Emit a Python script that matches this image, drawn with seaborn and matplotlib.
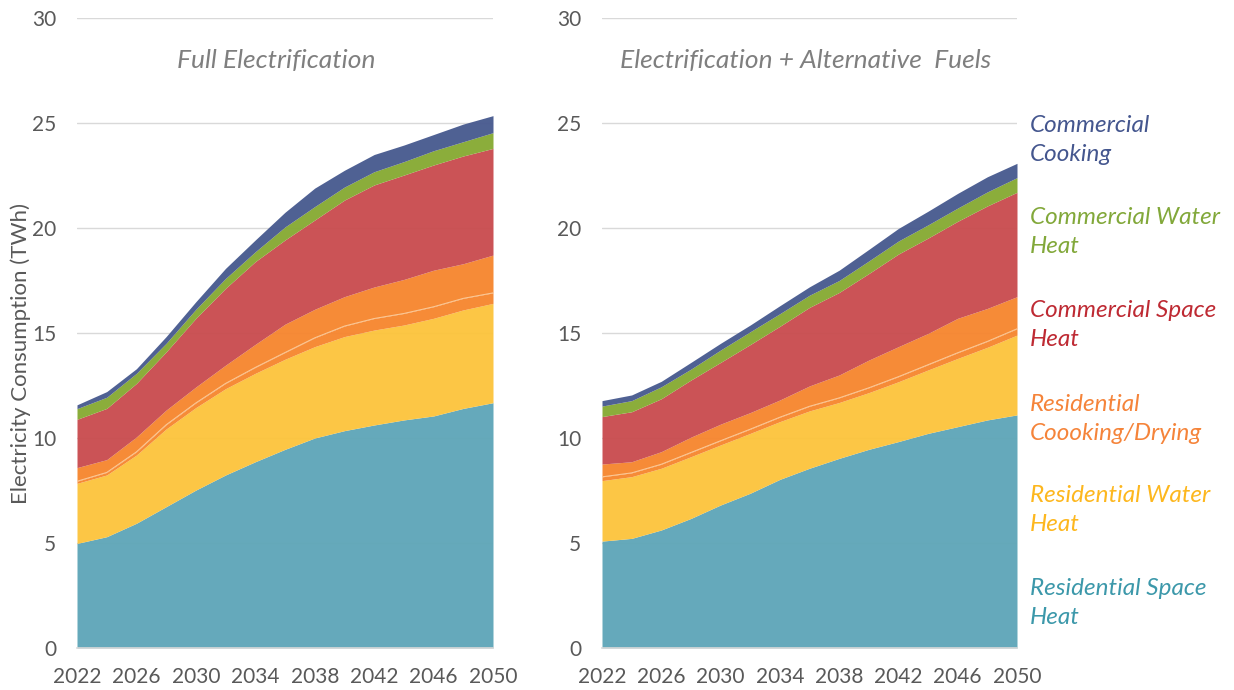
import numpy as np
import matplotlib
matplotlib.use("Agg")
import matplotlib.pyplot as plt
import seaborn as sns

# ---------------- data ----------------
years = [2022, 2024, 2026, 2028, 2030, 2032, 2034, 2036, 2038, 2040, 2042, 2044, 2046, 2048, 2050]

# Full Electrification (TWh)
fe_res_space = [4.98, 5.30, 5.94, 6.73, 7.52, 8.24, 8.87, 9.46, 10.00, 10.35, 10.62, 10.86, 11.05, 11.41, 11.68]
fe_res_water = [2.86, 2.94, 3.25, 3.70, 3.93, 4.11, 4.21, 4.29, 4.35, 4.48, 4.52, 4.52, 4.65, 4.69, 4.73]
fe_res_drying = [0.10, 0.12, 0.15, 0.20, 0.22, 0.25, 0.28, 0.32, 0.42, 0.50, 0.55, 0.55, 0.55, 0.55, 0.50]
fe_res_cooking = [0.65, 0.61, 0.71, 0.70, 0.76, 0.87, 1.10, 1.35, 1.36, 1.40, 1.50, 1.62, 1.74, 1.65, 1.80]
fe_com_space = [2.30, 2.44, 2.55, 2.77, 3.27, 3.66, 3.94, 4.01, 4.25, 4.60, 4.86, 4.97, 5.01, 5.13, 5.08]
fe_com_water = [0.51, 0.53, 0.48, 0.41, 0.43, 0.47, 0.47, 0.62, 0.64, 0.62, 0.63, 0.64, 0.68, 0.68, 0.75]
fe_com_cooking = [0.18, 0.27, 0.22, 0.32, 0.36, 0.48, 0.56, 0.70, 0.88, 0.80, 0.82, 0.79, 0.77, 0.84, 0.81]

# Electrification + Alternative Fuels (TWh)
af_res_space = [5.09, 5.22, 5.62, 6.17, 6.81, 7.37, 8.03, 8.56, 9.03, 9.46, 9.83, 10.22, 10.54, 10.86, 11.10]
af_res_water = [2.88, 2.94, 2.94, 2.94, 2.86, 2.85, 2.75, 2.73, 2.66, 2.70, 2.85, 3.02, 3.25, 3.46, 3.80]
af_res_drying = [0.18, 0.18, 0.19, 0.20, 0.20, 0.20, 0.21, 0.22, 0.22, 0.23, 0.24, 0.25, 0.27, 0.28, 0.30]
af_res_cooking = [0.61, 0.53, 0.60, 0.73, 0.79, 0.79, 0.82, 0.97, 1.09, 1.32, 1.43, 1.49, 1.64, 1.57, 1.53]
af_com_space = [2.26, 2.38, 2.52, 2.72, 2.94, 3.24, 3.51, 3.74, 3.93, 4.12, 4.41, 4.54, 4.62, 4.88, 4.97]
af_com_water = [0.50, 0.53, 0.57, 0.52, 0.59, 0.61, 0.60, 0.58, 0.57, 0.60, 0.62, 0.63, 0.63, 0.67, 0.70]
af_com_cooking = [0.26, 0.27, 0.26, 0.32, 0.32, 0.32, 0.38, 0.40, 0.49, 0.55, 0.60, 0.65, 0.70, 0.72, 0.68]

panel_titles = ["Full Electrification", "Electrification + Alternative  Fuels"]
legend_labels = ["Commercial\nCooking", "Commercial Water\nHeat", "Commercial Space\nHeat",
                 "Residential\nCoooking/Drying", "Residential Water\nHeat", "Residential Space\nHeat"]
y_label = "Electricity Consumption (TWh)"
x_tick_labels = [2022, 2026, 2030, 2034, 2038, 2042, 2046, 2050]
x_tick_marks = [2022, 2027, 2032, 2037, 2042, 2047]
y_ticks = [0, 5, 10, 15, 20, 25, 30]

# ---------------- style ----------------
sns.set_theme(style="white")
plt.rcParams["font.family"] = ["Lato", "DejaVu Sans"]

fill_colors = ["#5FA6B8", "#FCC43D", "#F6862F", "#F6862F", "#C94C4F", "#86AA33", "#485A8F"]
text_colors = ["#44568E", "#82A83A", "#BE2A33", "#F5843A", "#FDB71E", "#3C98AA"]
tick_color = "#595959"
grid_color = "#D9D9D9"

fig = plt.figure(figsize=(12.34, 6.90), dpi=100)
W, H = 1234, 690
axL = fig.add_axes([77 / W, 42 / H, 416 / W, 630 / H])
axR = fig.add_axes([602 / W, 42 / H, 415 / W, 630 / H])

datasets = [
    [fe_res_space, fe_res_water, fe_res_drying, fe_res_cooking, fe_com_space, fe_com_water, fe_com_cooking],
    [af_res_space, af_res_water, af_res_drying, af_res_cooking, af_com_space, af_com_water, af_com_cooking],
]
title_x = [0.478, 0.49]

for ax, layers, title, tx in zip([axL, axR], datasets, panel_titles, title_x):
    ax.stackplot(years, *layers, colors=fill_colors, linewidth=0, alpha=0.96, zorder=2)
    # faint light separator between drying and cooking parts
    sep = np.array(layers[0]) + np.array(layers[1]) + np.array(layers[2])
    ax.plot(years, sep, color="#FBCB9A", lw=0.7, zorder=3)
    ax.set_xlim(2022, 2050)
    ax.set_ylim(0, 30)
    ax.set_yticks(y_ticks)
    ax.set_yticklabels([str(v) for v in y_ticks])
    for yv in y_ticks[1:]:
        ax.axhline(yv, color=grid_color, lw=1.0, zorder=1)
    ax.set_xticks(x_tick_labels)
    ax.set_xticklabels([str(v) for v in x_tick_labels])
    ax.set_xticks(x_tick_marks, minor=True)
    ax.tick_params(axis="x", which="major", length=0, pad=14, labelsize=15, labelcolor=tick_color)
    ax.tick_params(axis="x", which="minor", length=6, width=1, color=grid_color)
    ax.tick_params(axis="y", length=0, pad=15, labelsize=15, labelcolor=tick_color)
    sns.despine(ax=ax, left=True, top=True, right=True)
    ax.spines["bottom"].set_color(grid_color)
    ax.spines["bottom"].set_linewidth(1.2)
    ax.spines["bottom"].set_zorder(4)
    ax.text(tx, 0.933, title, transform=ax.transAxes, ha="center", va="center",
            fontsize=19, style="italic", color="#7F7F7F")

fig.text(21 / W, 1 - 354 / H, y_label, rotation=90, ha="center", va="center",
         fontsize=16, color=tick_color)

legend_y = [140, 232, 325, 419, 510, 603]
for lab, col, yy in zip(legend_labels, text_colors, legend_y):
    fig.text(1030 / W, 1 - yy / H, lab, ha="left", va="center", fontsize=17.5,
             style="italic", color=col, linespacing=1.45)

fig.savefig("out.png", dpi=100)
